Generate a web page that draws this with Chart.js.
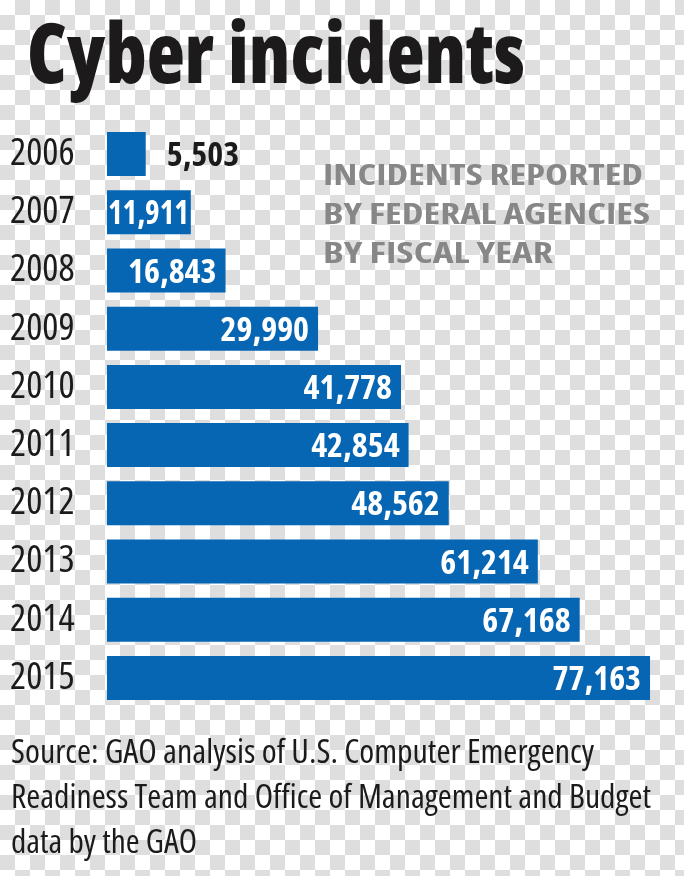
<!DOCTYPE html>
<html>
<head>
<meta charset="utf-8">
<script src="https://cdn.jsdelivr.net/npm/chart.js@4/dist/chart.umd.min.js"></script>
<style>
html,body{margin:0;padding:0;}
body{width:684px;height:876px;overflow:hidden;position:relative;
  background:#ffffff repeating-conic-gradient(#dedede 0% 25%, #ffffff 0% 50%) 0 0/30px 30px;}
.t{position:absolute;white-space:nowrap;transform-origin:0 0;line-height:1;
   font-family:"Open Sans",sans-serif;font-stretch:75%;}
#title{font-weight:800;font-size:84px;color:#1c1a1b;}
.sub{font-weight:700;font-size:29px;color:#878787;}
.src{font-weight:400;font-size:32px;color:#1c1a1b;}
#c{position:absolute;left:0;top:0;}
</style>
</head>
<body>
<canvas id="c" width="684" height="876"></canvas>
<div id="title" class="t">Cyber incidents</div>
<div id="sub1" class="t sub">INCIDENTS REPORTED</div>
<div id="sub2" class="t sub">BY FEDERAL AGENCIES</div>
<div id="sub3" class="t sub">BY FISCAL YEAR</div>
<div id="src1" class="t src">Source: GAO analysis of U.S. Computer Emergency</div>
<div id="src2" class="t src">Readiness Team and Office of Management and Budget</div>
<div id="src3" class="t src">data by the GAO</div>
<script>
// ---- data ----
const years = ['2006','2007','2008','2009','2010','2011','2012','2013','2014','2015'];
const incidents = [5503, 11911, 16843, 29990, 41778, 42854, 48562, 61214, 67168, 77163];
const xTicksMax = 80000;

const FAMILY = '"Open Sans", sans-serif';
const BAR_COLOR = '#0766b3';

// place an HTML text line: left edge, baseline y, target width
function place(id, left, baseline, width){
  const el = document.getElementById(id);
  const m = document.createElement('span');
  m.style.cssText = 'display:inline-block;width:0;height:0;vertical-align:baseline;';
  el.appendChild(m);
  el.style.left = left + 'px';
  el.style.top = '0px';
  const b = m.offsetTop;
  el.style.top = (baseline - b) + 'px';
  const w = el.getBoundingClientRect().width;
  if (width && w > 0) el.style.transform = 'scaleX(' + (width / w) + ')';
}
place('title', 27, 83, 498);
place('sub1', 323, 185, 320);
place('sub2', 323, 224, 327);
place('sub3', 323, 263, 230);
place('src1', 11, 763, 583);
place('src2', 11, 808, 640);
place('src3', 11, 853, 186);

const valueLabels = {
  id: 'valueLabels',
  afterDatasetsDraw(chart){
    const ctx = chart.ctx;
    const meta = chart.getDatasetMeta(0);
    const size = 34;
    ctx.save();
    ctx.font = '700 condensed ' + size + 'px ' + FAMILY;
    ctx.textBaseline = 'alphabetic';
    meta.data.forEach((bar, i) => {
      const txt = incidents[i].toLocaleString('en-US');
      const w = ctx.measureText(txt).width;
      const y = bar.y + 0.714 * size / 2;
      const len = bar.x - bar.base;
      if (w > len * 1.5) {
        ctx.fillStyle = '#1c1a1b';
        ctx.textAlign = 'left';
        ctx.fillText(txt, bar.x + 21, y);
      } else {
        ctx.fillStyle = '#ffffff';
        ctx.textAlign = 'right';
        if (w > len - 3) {
          const k = (len - 3) / w;
          ctx.save();
          ctx.translate(bar.x - 2, y);
          ctx.scale(k, 1);
          ctx.fillText(txt, 0, 0);
          ctx.restore();
        } else {
          const right = Math.max(bar.x - 9, bar.base + 1 + w);
          ctx.fillText(txt, right, y);
        }
      }
    });
    ctx.restore();
  }
};

new Chart(document.getElementById('c'), {
  type: 'bar',
  data: {
    labels: years,
    datasets: [{
      data: incidents,
      backgroundColor: BAR_COLOR,
      borderWidth: 0,
      barPercentage: 0.756,
      categoryPercentage: 1
    }]
  },
  options: {
    indexAxis: 'y',
    responsive: false,
    animation: false,
    devicePixelRatio: 1,
    layout: { padding: { left: 10, right: 14, top: 125, bottom: 169 } },
    plugins: { legend: { display: false }, tooltip: { enabled: false }, title: { display: false } },
    scales: {
      x: { display: false, min: 0, max: xTicksMax },
      y: {
        grid: { display: false },
        border: { display: false },
        ticks: {
          color: '#1c1a1b',
          crossAlign: 'far',
          padding: 0,
          font: { family: FAMILY, size: 38, weight: '400 condensed' }
        },
        afterFit(scale){ scale.width = 97; }
      }
    }
  },
  plugins: [valueLabels]
});
</script>
</body>
</html>
